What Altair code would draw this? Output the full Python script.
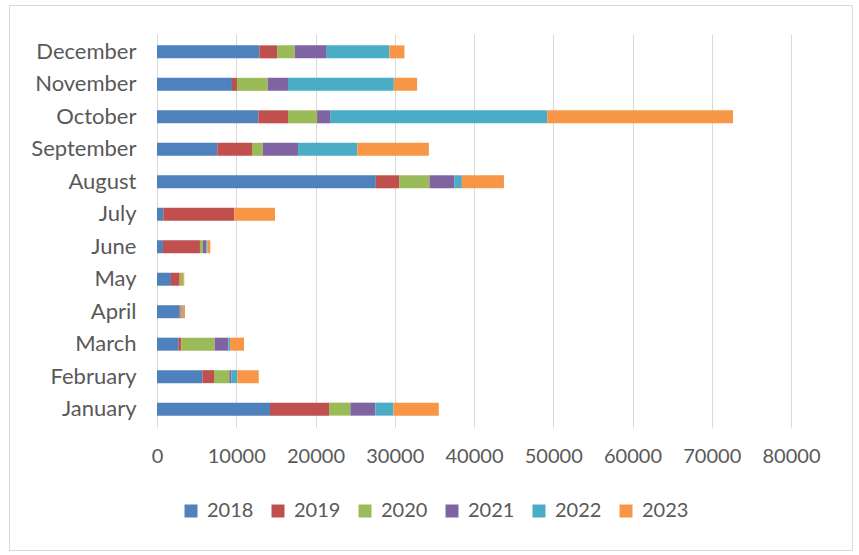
import altair as alt
import pandas as pd

months = ["January", "February", "March", "April", "May", "June",
          "July", "August", "September", "October", "November", "December"]
years = ["2018", "2019", "2020", "2021", "2022", "2023"]

v2018 = [14260, 5720, 2680, 2810, 1760, 750, 790, 27610, 7610, 12790, 9460, 12920]
v2019 = [7450, 1470, 380, 180, 1100, 4670, 8960, 2940, 4380, 3740, 630, 2230]
v2020 = [2690, 1940, 4220, 120, 450, 380, 0, 3830, 1350, 3670, 3880, 2230]
v2021 = [3160, 250, 1720, 100, 0, 420, 0, 3160, 4460, 1640, 2560, 3950]
v2022 = [2270, 750, 210, 60, 0, 130, 0, 930, 7480, 27400, 13350, 7990]
v2023 = [5730, 2710, 1770, 260, 130, 370, 5140, 5310, 9020, 23440, 2940, 1900]

colors = ["#4F81BD", "#C0504D", "#9BBB59", "#8064A2", "#4BACC6", "#F79646"]
x_ticks = [0, 10000, 20000, 30000, 40000, 50000, 60000, 70000, 80000]

series = [v2018, v2019, v2020, v2021, v2022, v2023]
rows = []
for yi, (yr, vals) in enumerate(zip(years, series)):
    for m, v in zip(months, vals):
        rows.append({"Month": m, "Year": yr, "Value": v, "ord": yi})
df = pd.DataFrame(rows)

FONT = "Lato"
GREY = "#595959"

bars = alt.Chart(df).mark_bar(size=13).encode(
    y=alt.Y("Month:N", sort=months[::-1], title=None,
            scale=alt.Scale(paddingInner=0.6, paddingOuter=0.35),
            axis=alt.Axis(domain=False, ticks=False, labelPadding=21,
                          labelFontSize=22, labelColor=GREY, labelFont=FONT,
                          grid=False)),
    x=alt.X("Value:Q", stack="zero", title=None,
            scale=alt.Scale(domain=[0, 80000], nice=False),
            axis=alt.Axis(values=x_ticks, domain=False, ticks=False,
                          grid=True, gridColor="#D9D9D9", gridWidth=1,
                          labelOverlap=False, labelFlush=False,
                          labelPadding=19, labelFontSize=20, labelColor=GREY,
                          labelFont=FONT, format="d")),
    color=alt.Color("Year:N", sort=years,
                    scale=alt.Scale(domain=years, range=colors),
                    legend=alt.Legend(title=None, orient="none", direction="horizontal",
                                      columns=6, legendX=24, legendY=467,
                                      symbolType="square", symbolSize=169,
                                      symbolStrokeWidth=0, symbolOpacity=1,
                                      labelFontSize=20, labelColor=GREY, labelFont=FONT,
                                      labelOffset=6, columnPadding=14, padding=0)),
    order=alt.Order("ord:Q"),
)

border = alt.Chart(pd.DataFrame({"k": [0]})).mark_rect(
    fill=None, stroke="#D9D9D9", strokeWidth=1
).encode(
    x=alt.value(-147.5), x2=alt.value(695.5),
    y=alt.value(-28.5), y2=alt.value(516.5),
)

chart = alt.layer(border, bars).properties(
    width=634, height=393,
    padding={"left": 157, "top": 34, "right": 68, "bottom": 128},
    autosize=alt.AutoSizeParams(type="none"),
    background="white",
).configure_view(stroke=None)

chart.save("out.html", embed_options={"renderer": "svg", "actions": False})
